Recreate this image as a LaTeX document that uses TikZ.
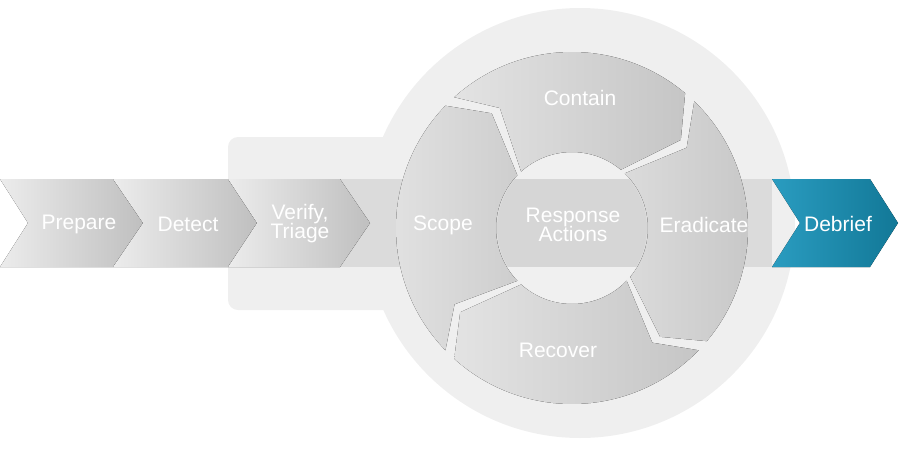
\documentclass[tikz,border=0pt]{standalone}
\usepackage{fontspec}
\setmainfont{Liberation Sans}
\usetikzlibrary{calc}
\begin{document}
\begin{tikzpicture}[x=1pt,y=-1pt,
  lbl/.style={text=white,font=\fontsize{21}{23}\selectfont,align=center},
  chev/.style={left color=gray!15,right color=gray!50,draw=none},
  seg/.style={left color=gray!22,right color=gray!45,draw=none}]
\definecolor{bg}{HTML}{EFEFEF}
\definecolor{blueA}{HTML}{2A9CC0}
\definecolor{blueB}{HTML}{127897}
\useasboundingbox (0,0) rectangle (900,448);
\fill[bg] (580,223) circle (215);
\fill[bg,rounded corners=10] (228,137) rectangle (400,310);
\fill[gray!28] (340,179) rectangle (772,267);
\fill[chev] (0,179) -- (113,179) -- (143,223) -- (113,267) -- (0,267) -- (28,223) -- cycle;
\fill[chev] (113,179) -- (228,179) -- (257,223) -- (228,267) -- (113,267) -- (143,223) -- cycle;
\fill[chev] (228,179) -- (340,179) -- (370,223) -- (340,267) -- (228,267) -- (257,223) -- cycle;
\fill[left color=blueA,right color=blueB] (772,179) -- (870,179) -- (898,223) -- (870,267) -- (772,267) -- (800,223) -- cycle;
\def\R{176}\def\r{76}\def\Rm{140}
\foreach \S/\E in {224/136, 132/50, 46/-40, -44/-132}{
  \pgfmathsetmacro\Et{\E-11}\pgfmathsetmacro\St{\S-11}
  \fill[seg] (572,228) ++(-\S:\R) arc[start angle=-\S,end angle=-\E,radius=\R]
    -- ($(572,228)+(-\Et:\Rm)$) -- ($(572,228)+(-\E:\r)$)
    arc[start angle=-\E,end angle=-\S,radius=\r]
    -- ($(572,228)+(-\St:\Rm)$) -- cycle;
}
\fill[gray!12] (572,228) circle (75);
\begin{scope}
\clip (572,228) circle (75);
\fill[gray!32] (490,179) rectangle (660,267);
\end{scope}
\node[lbl] (prep) at (79,224) {Prepare};
\node[lbl] (det) at (188,224) {Detect};
\node[lbl] (ver) at (300,224) {Verify,\\[-4pt]Triage};
\node[lbl] (scope) at (443,225) {Scope};
\node[lbl] (cont) at (580,98) {Contain};
\node[lbl] (resp) at (573,225) {Response\\[-4pt]Actions};
\node[lbl] (erad) at (704,225) {Eradicate};
\node[lbl] (rec) at (558,350) {Recover};
\node[lbl] (deb) at (838,224) {Debrief};
\end{tikzpicture}
\end{document}
